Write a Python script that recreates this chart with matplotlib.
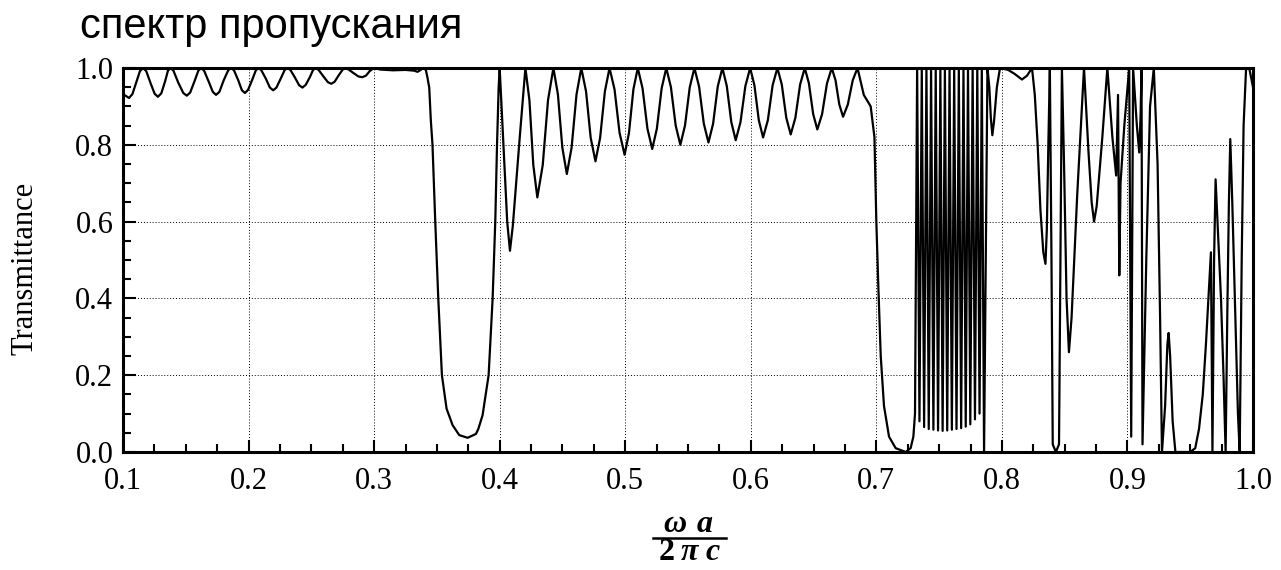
import matplotlib
matplotlib.use("Agg")
import matplotlib.pyplot as plt
from matplotlib.ticker import MultipleLocator
from matplotlib.lines import Line2D

# ---------------- data ----------------
# 0.10 - 0.30 : small ripples
freq_ripple1 = [0.1000, 0.1048, 0.1075, 0.1105, 0.1135, 0.1159, 0.1185, 0.1220, 0.1252, 0.1278,
                0.1305, 0.1335, 0.1358, 0.1378, 0.1402, 0.1440, 0.1480, 0.1508, 0.1535, 0.1570,
                0.1600, 0.1622, 0.1646, 0.1682, 0.1715, 0.1741, 0.1768, 0.1802, 0.1838, 0.1860,
                0.1884, 0.1918, 0.1947, 0.1971, 0.1996, 0.2030, 0.2058, 0.2079, 0.2102, 0.2138,
                0.2170, 0.2196, 0.2222, 0.2257, 0.2288, 0.2310, 0.2333, 0.2368, 0.2403, 0.2429,
                0.2455, 0.2488, 0.2514, 0.2534, 0.2558, 0.2592, 0.2632, 0.2659, 0.2685, 0.2720,
                0.2750, 0.2772, 0.2797, 0.2835, 0.2875, 0.2905, 0.2935, 0.2965, 0.2997]
trans_ripple1 = [0.932, 0.922, 0.932, 0.962, 0.992, 1.000, 0.992, 0.960, 0.933, 0.925,
                 0.934, 0.965, 0.993, 1.000, 0.993, 0.962, 0.935, 0.928, 0.936, 0.966,
                 0.993, 1.000, 0.993, 0.965, 0.938, 0.930, 0.938, 0.968, 0.994, 1.000,
                 0.994, 0.968, 0.942, 0.935, 0.943, 0.970, 0.994, 1.000, 0.994, 0.972,
                 0.949, 0.942, 0.949, 0.973, 0.995, 1.000, 0.995, 0.976, 0.955, 0.949,
                 0.956, 0.976, 0.995, 1.000, 0.995, 0.980, 0.963, 0.959, 0.964, 0.982,
                 0.996, 1.000, 0.996, 0.987, 0.978, 0.976, 0.980, 0.992, 1.000]

# 0.30 - 0.40 : plateau and first stop band
freq_gap1 = [0.3050, 0.3150, 0.3250, 0.3320, 0.3346, 0.3370, 0.3390, 0.3412, 0.3425, 0.3439,
             0.3452, 0.3465, 0.3487, 0.3511, 0.3540, 0.3577, 0.3625, 0.3678, 0.3745, 0.3811,
             0.3830, 0.3864, 0.3912, 0.3944, 0.3965, 0.3979, 0.3992]
trans_gap1 = [0.996, 0.994, 0.995, 0.993, 0.990, 0.995, 1.000, 0.995, 0.975, 0.949,
              0.862, 0.800, 0.600, 0.400, 0.200, 0.113, 0.070, 0.044, 0.037, 0.047,
              0.060, 0.096, 0.200, 0.400, 0.600, 0.800, 0.950]

# 0.40 - 0.70 : second pass band ripples
freq_ripple2 = [0.4000, 0.4030, 0.4060, 0.4082, 0.4105, 0.4160, 0.4205,
                0.4237, 0.4268, 0.4300, 0.4343, 0.4385, 0.4428,
                0.4464, 0.4499, 0.4535, 0.4573, 0.4612, 0.4650,
                0.4688, 0.4725, 0.4763, 0.4800, 0.4838, 0.4875,
                0.4915, 0.4955, 0.4995, 0.5030, 0.5065, 0.5100,
                0.5138, 0.5177, 0.5215, 0.5252, 0.5290, 0.5327,
                0.5364, 0.5402, 0.5439, 0.5476, 0.5514, 0.5551,
                0.5588, 0.5626, 0.5663, 0.5700, 0.5737, 0.5774,
                0.5809, 0.5845, 0.5880, 0.5918, 0.5957, 0.5995,
                0.6029, 0.6064, 0.6098, 0.6136, 0.6174, 0.6212,
                0.6247, 0.6283, 0.6318, 0.6355, 0.6393, 0.6430,
                0.6463, 0.6497, 0.6530, 0.6568, 0.6607, 0.6645,
                0.6675, 0.6705, 0.6735, 0.6773, 0.6812, 0.6850,
                0.6900, 0.6955, 0.6985]
trans_ripple2 = [1.000, 0.800, 0.600, 0.524, 0.590, 0.820, 1.000,
                 0.916, 0.747, 0.663, 0.747, 0.916, 1.000,
                 0.931, 0.793, 0.724, 0.793, 0.931, 1.000,
                 0.939, 0.818, 0.757, 0.818, 0.939, 1.000,
                 0.944, 0.831, 0.774, 0.831, 0.944, 1.000,
                 0.947, 0.842, 0.789, 0.842, 0.947, 1.000,
                 0.950, 0.850, 0.800, 0.850, 0.950, 1.000,
                 0.952, 0.855, 0.806, 0.855, 0.952, 1.000,
                 0.953, 0.859, 0.812, 0.859, 0.953, 1.000,
                 0.955, 0.864, 0.819, 0.864, 0.955, 1.000,
                 0.957, 0.870, 0.827, 0.870, 0.957, 1.000,
                 0.960, 0.880, 0.840, 0.880, 0.960, 1.000,
                 0.968, 0.905, 0.873, 0.905, 0.968, 1.000,
                 0.930, 0.900, 0.820]

# 0.70 - 0.79 : second stop band and dense resonances
freq_dense = [0.7000, 0.7016, 0.7035, 0.7061, 0.7101, 0.7154, 0.7234, 0.7273, 0.7295, 0.7308,
              0.7325, 0.73435, 0.7362, 0.73805, 0.7399, 0.74175, 0.7436, 0.74545, 0.7473, 0.74915,
              0.7510, 0.7528, 0.7546, 0.75645, 0.7583, 0.76015, 0.7620, 0.76385, 0.7657, 0.76755,
              0.7694, 0.7712, 0.7730, 0.77485, 0.7767, 0.77855, 0.7804, 0.7822, 0.7840, 0.7858,
              0.7885]
trans_dense = [0.600, 0.430, 0.250, 0.120, 0.040, 0.010, 0.000, 0.010, 0.040, 0.100,
               1.000, 0.080, 1.000, 0.065, 1.000, 0.060, 1.000, 0.058, 1.000, 0.056,
               1.000, 0.055, 1.000, 0.056, 1.000, 0.058, 1.000, 0.060, 1.000, 0.062,
               1.000, 0.066, 1.000, 0.072, 1.000, 0.085, 1.000, 0.100, 1.000, 0.000,
               1.000]

# 0.79 - 1.00 : high frequency region
freq_high = [0.7900, 0.7912, 0.7924, 0.7937, 0.7960, 0.7985, 0.8050, 0.8100, 0.8160, 0.8200,
             0.8240, 0.8262, 0.8285, 0.8307, 0.8330, 0.8347, 0.8358, 0.8370, 0.8382, 0.8395,
             0.8405, 0.8430, 0.8455, 0.8466, 0.8478, 0.8495, 0.8515, 0.8534, 0.8555, 0.8600,
             0.8654, 0.8690, 0.8715, 0.8734, 0.8755, 0.8800, 0.8840, 0.8880, 0.8910, 0.8925,
             0.8935, 0.8945, 0.8975, 0.9014, 0.9030, 0.9045, 0.9075, 0.9094, 0.9105, 0.9112,
             0.9120, 0.9150, 0.9180, 0.9210, 0.9240, 0.9260, 0.9275, 0.9300, 0.9318, 0.9328,
             0.9340, 0.9360, 0.9382, 0.9420, 0.9500, 0.9540, 0.9570, 0.9600, 0.9625, 0.9645,
             0.9665, 0.9672, 0.9677, 0.9690, 0.9702, 0.9720, 0.9745, 0.9765, 0.9782, 0.9795,
             0.9808, 0.9819, 0.9835, 0.9860, 0.9880, 0.9894, 0.9910, 0.9925, 0.9945, 0.9970,
             1.0000]
trans_high = [0.950, 0.870, 0.825, 0.860, 0.950, 1.000, 0.995, 0.985, 0.970, 0.980,
              1.000, 0.930, 0.800, 0.630, 0.520, 0.490, 0.580, 0.800, 1.000, 0.500,
              0.020, 0.000, 0.020, 0.500, 1.000, 0.750, 0.400, 0.260, 0.350, 0.670,
              1.000, 0.780, 0.650, 0.600, 0.640, 0.820, 1.000, 0.820, 0.720, 0.930,
              0.460, 0.700, 0.850, 1.000, 0.040, 1.000, 0.850, 0.780, 0.880, 1.000,
              0.020, 0.500, 0.900, 1.000, 0.750, 0.350, 0.000, 0.120, 0.280, 0.310,
              0.250, 0.080, 0.000, 0.000, 0.000, 0.010, 0.060, 0.150, 0.280, 0.400,
              0.520, 0.200, 0.000, 0.500, 0.710, 0.580, 0.400, 0.200, 0.000, 0.350,
              0.650, 0.815, 0.650, 0.350, 0.100, 0.000, 0.500, 0.850, 1.000, 1.000,
              0.950]

x_ticks = [0.1, 0.2, 0.3, 0.4, 0.5, 0.6, 0.7, 0.8, 0.9, 1.0]
y_ticks = [0.0, 0.2, 0.4, 0.6, 0.8, 1.0]

freq = freq_ripple1 + freq_gap1 + freq_ripple2 + freq_dense + freq_high
trans = trans_ripple1 + trans_gap1 + trans_ripple2 + trans_dense + trans_high

# ---------------- figure ----------------
W, H = 1281, 570
fig = plt.figure(figsize=(W / 100, H / 100), dpi=100)
ax = fig.add_axes([123 / W, (H - 452) / H, 1130 / W, 384 / H])

ax.plot(freq, trans, color="black", lw=1.6)

ax.set_xlim(0.1, 1.0)
ax.set_ylim(0.0, 1.0)
ax.set_xticks(x_ticks)
ax.set_yticks(y_ticks)
ax.set_xticklabels([f"{v:.1f}" for v in x_ticks])
ax.set_yticklabels([f"{v:.1f}" for v in y_ticks])
ax.xaxis.set_minor_locator(MultipleLocator(0.025))
ax.yaxis.set_minor_locator(MultipleLocator(0.05))

serif = ["Liberation Serif", "DejaVu Serif"]
ax.tick_params(which="both", direction="in", top=False, right=False, width=1.5, color="black")
ax.tick_params(which="major", length=9)
ax.tick_params(which="minor", length=6)
ax.tick_params(axis="x", which="major", pad=11)
ax.tick_params(axis="y", which="major", pad=7)
for lab in ax.get_xticklabels() + ax.get_yticklabels():
    lab.set_fontfamily(serif)
    lab.set_fontsize(22)

ax.grid(True, which="major", color="black", linestyle=(0, (1, 2)), linewidth=0.7)
for sp in ax.spines.values():
    sp.set_linewidth(2.2)

fig.text(25 / W, 1 - 268 / H, "Transmittance", rotation=90, ha="center", va="center",
         fontsize=22, family=serif)

# x-axis label as a stacked fraction
fig.text(675 / W, 1 - 525 / H, "ω", ha="center", va="center", fontsize=23,
         family=serif, style="italic", weight="bold")
fig.text(705 / W, 1 - 525 / H, "a", ha="center", va="center", fontsize=23,
         family=serif, style="italic", weight="bold")
fig.add_artist(Line2D([653 / W, 726 / W], [1 - 538 / H, 1 - 538 / H], color="black", lw=1.8))
fig.text(667 / W, 1 - 553 / H, "2", ha="center", va="center", fontsize=23,
         family=serif, weight="bold")
fig.text(690 / W, 1 - 553 / H, "π", ha="center", va="center", fontsize=23,
         family=serif, style="italic", weight="bold")
fig.text(713 / W, 1 - 553 / H, "c", ha="center", va="center", fontsize=23,
         family=serif, style="italic", weight="bold")

fig.text(80 / W, 1 - 27 / H, "спектр пропускания", ha="left", va="center",
         fontsize=30, family=["Liberation Sans", "DejaVu Sans"])

fig.savefig("out.png", dpi=100, facecolor="white")
